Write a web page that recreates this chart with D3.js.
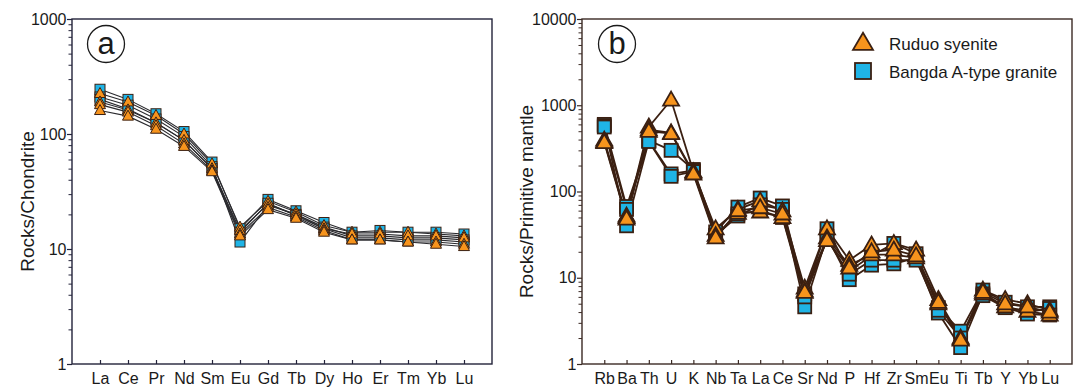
<!DOCTYPE html>
<html>
<head>
<meta charset="utf-8">
<script src="https://cdn.jsdelivr.net/npm/d3@7"></script>
<style>
  html, body { margin: 0; padding: 0; background: #fff; }
  svg { display: block; font-family: "Liberation Sans", Arial, sans-serif; }
</style>
</head>
<body>
<svg id="chart" width="1079" height="389"></svg>
<script>
// ---- REE pattern (chondrite-normalised) ----
const reeElements = ["La","Ce","Pr","Nd","Sm","Eu","Gd","Tb","Dy","Ho","Er","Tm","Yb","Lu"];
const reeTicks = [1, 10, 100, 1000];

const reeBangda = [
  [245, 200, 150, 105, 57, 15.0, 27, 21.5, 17.0, 14.0, 14.5, 14.0, 14.0, 13.5],
  [210, 178, 135, 95, 52, 11.5, 24, 20.0, 15.5, 13.0, 13.0, 12.5, 12.5, 12.0],
  [200, 165, 125, 88, 50, 14.0, 25, 19.5, 15.0, 12.5, 12.5, 12.0, 12.0, 11.5]
];
const reeRuduo = [
  [225, 190, 145, 100, 55, 15.5, 26.0, 21.0, 16.0, 14.0, 14.0, 14.0, 13.5, 13.0],
  [190, 162, 125, 88, 50, 14.5, 24.5, 20.0, 15.0, 13.5, 13.5, 13.0, 13.0, 12.5],
  [180, 155, 118, 82, 48, 13.5, 23.0, 19.0, 14.5, 12.0, 12.0, 11.5, 11.5, 11.0],
  [160, 143, 110, 78, 47, 13.0, 22.0, 18.5, 14.0, 12.0, 12.0, 11.5, 11.0, 10.5]
];

// ---- Trace-element spidergram (primitive-mantle-normalised) ----
const traceElements = ["Rb","Ba","Th","U","K","Nb","Ta","La","Ce","Sr","Nd","P","Hf","Zr","Sm","Eu","Ti","Tb","Y","Yb","Lu"];
const traceTicks = [1, 10, 100, 1000, 10000];

const traceBangda = [
  [600, 67, 390, 300, 180, 34, 66, 84, 68, 6.5, 37, 12.0, 18, 25, 19, 4.5, 2.4, 7.2, 5.2, 4.6, 4.6],
  [580, 40, 385, 160, 175, 31, 52, 70, 62, 4.6, 30, 9.5, 14, 14.5, 17, 3.9, 1.55, 6.5, 4.6, 4.0, 4.4],
  [560, 62, 380, 150, 170, 30, 55, 60, 50, 6.0, 28, 11.0, 16, 16, 16, 4.2, 2.0, 6.2, 4.5, 3.8, 3.7]
];
const traceRuduo = [
  [395, 52, 560, 1150, 170, 37, 62, 78, 60, 7.6, 37, 16, 24, 25, 21, 5.6, 2.0, 7.2, 5.6, 5.0, 4.2],
  [380, 50, 520, 480, 165, 31, 56, 58, 50, 7.0, 29, 14, 18.5, 18.5, 17, 5.0, 1.95, 6.5, 4.6, 4.1, 3.7],
  [370, 48, 500, 470, 160, 29, 60, 65, 55, 6.8, 27, 13, 20, 21, 18, 5.2, 1.9, 6.8, 5.0, 4.6, 4.0]
];

const seriesNames = ["Ruduo syenite", "Bangda A-type granite"];
const ORANGE = "#f7941d", CYAN = "#1fb4e6", BROWN = "#3b2012";

const svg = d3.select("#chart");

function trianglePath(cx, cy, w, h) {
  return `M${cx},${cy - h * 0.6}L${cx + w / 2},${cy + h * 0.4}L${cx - w / 2},${cy + h * 0.4}Z`;
}

function panel(opt) {
  const g = svg.append("g");
  const x = d3.scalePoint().domain(opt.elements).range([opt.left, opt.right]).padding(1);
  const y = d3.scaleLog().domain([opt.ticks[0], opt.ticks[opt.ticks.length - 1]]).range([opt.bottom, opt.top]);

  // minor log ticks (2..9 per decade)
  const minor = [];
  for (let i = 0; i < opt.ticks.length - 1; i++) {
    for (let k = 2; k <= 9; k++) minor.push(opt.ticks[i] * k);
  }
  g.append("g").attr("transform", `translate(${opt.left},0)`)
    .call(d3.axisLeft(y).tickValues(minor).tickSize(3.5).tickFormat(""))
    .call(a => a.select(".domain").remove())
    .call(a => a.selectAll("line").attr("stroke", opt.frame).attr("stroke-width", 1));
  g.append("g").attr("transform", `translate(${opt.left},0)`)
    .call(d3.axisLeft(y).tickValues(opt.ticks).tickSize(5).tickPadding(0.5).tickFormat(d3.format("d")))
    .call(a => a.select(".domain").remove())
    .call(a => a.selectAll("line").attr("stroke", opt.frame).attr("stroke-width", 1.2))
    .call(a => a.selectAll("text").attr("font-size", 16).attr("fill", "#1a1a1a")
      .attr("font-family", "Liberation Sans, Arial, sans-serif"));

  // bottom category ticks pointing inward
  g.append("g").attr("transform", `translate(0,${opt.bottom})`)
    .call(d3.axisBottom(x).tickSize(-4).tickPadding(9))
    .call(a => a.select(".domain").remove())
    .call(a => a.selectAll("line").attr("stroke", opt.frame).attr("stroke-width", 1.2))
    .call(a => a.selectAll("text").attr("font-size", 16).attr("fill", "#1a1a1a")
      .attr("font-family", "Liberation Sans, Arial, sans-serif"));

  // frame
  g.append("rect").attr("x", opt.left).attr("y", opt.top)
    .attr("width", opt.right - opt.left).attr("height", opt.bottom - opt.top)
    .attr("fill", "none").attr("stroke", opt.frame).attr("stroke-width", 1.4);

  // y label
  g.append("text")
    .attr("transform", `translate(${opt.ylabelX},${(opt.top + opt.bottom) / 2 + 10}) rotate(-90)`)
    .attr("text-anchor", "middle").attr("font-size", 19).attr("fill", "#1a1a1a")
    .text(opt.ylabel);

  // panel letter
  g.append("circle").attr("cx", opt.letterX).attr("cy", 44).attr("r", 18.5)
    .attr("fill", "#fff").attr("stroke", "#1a1a1a").attr("stroke-width", 1.3);
  g.append("text").attr("x", opt.letterX).attr("y", 54).attr("text-anchor", "middle")
    .attr("font-size", 31).attr("fill", "#1a1a1a").text(opt.letter);

  const line = d3.line().x((d, i) => x(opt.elements[i])).y(d => y(d));
  const all = opt.squares.concat(opt.triangles);
  g.append("g").selectAll("path").data(all).join("path")
    .attr("d", line).attr("fill", "none")
    .attr("stroke", opt.lineColor).attr("stroke-width", opt.lineWidth);

  // squares first, triangles on top
  opt.squares.forEach(row => {
    g.append("g").selectAll("rect").data(row).join("rect")
      .attr("x", (d, i) => x(opt.elements[i]) - opt.sq / 2)
      .attr("y", d => y(d) - opt.sq / 2)
      .attr("width", opt.sq).attr("height", opt.sq)
      .attr("fill", CYAN).attr("stroke", BROWN).attr("stroke-width", opt.markerStroke);
  });
  opt.triangles.forEach(row => {
    g.append("g").selectAll("path").data(row).join("path")
      .attr("d", (d, i) => trianglePath(x(opt.elements[i]), y(d), opt.triW, opt.triH))
      .attr("fill", ORANGE).attr("stroke", BROWN).attr("stroke-width", opt.markerStroke)
      .attr("stroke-linejoin", "miter");
  });
  return g;
}

panel({
  elements: reeElements, ticks: reeTicks,
  left: 72, right: 492, top: 19, bottom: 364,
  frame: "#23233a", ylabel: "Rocks/Chondrite", ylabelX: 34,
  letter: "a", letterX: 106,
  squares: reeBangda, triangles: reeRuduo,
  lineColor: "#2a2a2e", lineWidth: 1.1,
  sq: 10, triW: 11, triH: 10, markerStroke: 1
});

panel({
  elements: traceElements, ticks: traceTicks,
  left: 582, right: 1072, top: 19, bottom: 364,
  frame: "#3b2a24", ylabel: "Rocks/Primitive mantle", ylabelX: 533,
  letter: "b", letterX: 617,
  squares: traceBangda, triangles: traceRuduo,
  lineColor: "#3b2012", lineWidth: 1.8,
  sq: 13, triW: 16, triH: 14, markerStroke: 1.8
});

// legend
const leg = svg.append("g");
leg.append("path").attr("d", trianglePath(863, 43, 20, 17))
  .attr("fill", ORANGE).attr("stroke", BROWN).attr("stroke-width", 1.8);
leg.append("rect").attr("x", 855).attr("y", 63).attr("width", 16).attr("height", 16)
  .attr("fill", CYAN).attr("stroke", BROWN).attr("stroke-width", 1.8);
leg.selectAll("text").data(seriesNames).join("text")
  .attr("x", 889).attr("y", (d, i) => 50 + i * 28)
  .attr("font-size", 17).attr("fill", "#1a1a1a").text(d => d);
</script>
</body>
</html>
